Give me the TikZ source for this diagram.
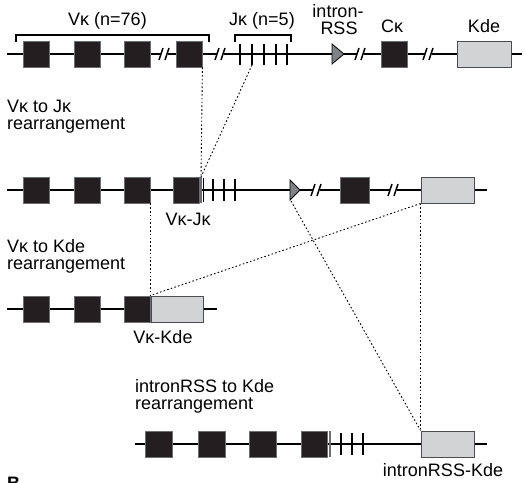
\documentclass[tikz,border=0pt]{standalone}
\usepackage{fontspec}
\setmainfont{Liberation Sans}
\definecolor{boxblk}{HTML}{231F20}
\definecolor{boxedge}{HTML}{6D6E71}
\definecolor{kdefill}{HTML}{D1D3D4}
\definecolor{kdeedge}{HTML}{4D4D4F}
\definecolor{trifill}{HTML}{808285}
\tikzset{
 dna/.style={line width=2.2pt, black},
 vseg/.style={rectangle, inner sep=0pt, fill=boxblk, draw=boxedge, line width=0.8pt, minimum width=26pt, minimum height=26pt},
 kseg/.style={rectangle, inner sep=0pt, fill=kdefill, draw=kdeedge, line width=1pt, minimum width=54pt, minimum height=26pt},
 jseg/.style={line width=1.8pt, black},
 junc/.style={line width=1.6pt, boxedge},
 link/.style={line width=0.9pt, dash pattern=on 1.6pt off 2.2pt},
 brace/.style={line width=1.3pt},
 lbl/.style={font=\fontsize{18}{17}\selectfont, inner sep=0pt},
 rss/.style={fill=trifill, draw=black, line width=0.8pt, line join=miter},
 slash/.style={line width=1.5pt},
}
\newcommand\seqbreak[2]{%
 \fill[white] (#1-3.5,#2-1.6) rectangle (#1+3.5,#2+1.6);
 \draw[slash] (#1-5,#2+6) -- (#1-1,#2-6) (#1+1,#2+6) -- (#1+5,#2-6);
}
\begin{document}
\begin{tikzpicture}[x=1pt,y=-1pt]
\clip (0,0) rectangle (526,482);
% ---------- row 1: germline ----------
\draw[dna] (7,54) -- (522,54);
\node[vseg] (a1) at (36,54) {};
\node[vseg] (a2) at (87,54) {};
\node[vseg] (a3) at (137,54) {};
\node[vseg] (a4) at (189,54) {};
\seqbreak{164}{54}
\seqbreak{220}{54}
\foreach \x in {240,252,264,276,287} \draw[jseg] (\x,44) -- (\x,65);
\coordinate (aj2) at (252,65);
\draw[brace] (16,42) -- (16,35) -- (209,35) -- (209,42);
\draw[brace] (235,42) -- (235,35) -- (291,35) -- (291,42);
\filldraw[rss] (332,44) -- (344,54) -- (332,64) -- cycle;
\seqbreak{360}{54}
\node[vseg] (ac) at (394,54) {};
\seqbreak{428}{54}
\node[kseg] (ak) at (484,54) {};
\node[lbl, anchor=base] (lv) at (107.5,25) {Vκ (n=76)};
\node[lbl, anchor=base] (lj) at (262,25) {Jκ (n=5)};
\node[lbl, anchor=base] (lr1) at (338,17) {intron-};
\node[lbl, anchor=base] (lr2) at (339,34) {RSS};
\node[lbl, anchor=base] (lc) at (392,32) {Cκ};
\node[lbl, anchor=base] (lk) at (484,32) {Kde};
% ---------- row 2: V-J ----------
\draw[dna] (7,190) -- (487,190);
\node[vseg] (b1) at (36,190) {};
\node[vseg] (b2) at (87,190) {};
\node[vseg] (b3) at (137,190) {};
\node[vseg] (b4) at (186,190) {};
\draw[junc] (201,177) -- (201,203);
\coordinate (bj) at (201,177);
\draw[line width=1pt] (203,178) -- (203,202);
\foreach \x in {213,224,235} \draw[jseg] (\x,179) -- (\x,201);
\filldraw[rss] (290,180) -- (300,190) -- (290,200) -- cycle;
\coordinate (bt) at (291,201);
\seqbreak{316}{190}
\node[vseg, minimum width=29pt] (bc) at (355,190) {};
\seqbreak{393}{190}
\node[kseg, minimum width=53pt] (bk) at (447.5,190) {};
\node[lbl, anchor=base west, align=left] (l2) at (7,129) {Vκ to Jκ\\rearrangement};
\node[lbl, anchor=base] (l2j) at (188,225) {Vκ-Jκ};
% ---------- row 3: V-Kde ----------
\draw[dna] (7,309) -- (217,309);
\node[vseg] (c1) at (36,309) {};
\node[vseg] (c2) at (87,309) {};
\node[vseg] (c3) at (137,309) {};
\node[kseg, minimum width=52pt] (ck) at (177,309) {};
\node[lbl, anchor=base west, align=left] (l3) at (7,269) {Vκ to Kde\\rearrangement};
\node[lbl, anchor=base] (l3j) at (163,343) {Vκ-Kde};
% ---------- row 4: intronRSS-Kde ----------
\draw[dna] (135,444) -- (487,444);
\node[vseg, minimum width=27pt] (d1) at (158.5,444) {};
\node[vseg, minimum width=27pt] (d2) at (211.5,444) {};
\node[vseg, minimum width=27pt] (d3) at (262.5,444) {};
\node[vseg] (d4) at (314,444) {};
\draw[junc] (330,431) -- (330,457);
\foreach \x in {341,352,363} \draw[jseg] (\x,433) -- (\x,455);
\node[kseg, minimum width=53pt] (dk) at (447.5,444) {};
\node[lbl, anchor=base west, align=left] (l4) at (135,409) {intronRSS to Kde\\rearrangement};
\node[lbl, anchor=base] (l4j) at (443,476) {intronRSS-Kde};
\node[font=\bfseries\fontsize{18}{18}\selectfont, anchor=north west, inner sep=0pt] (B) at (7,477) {B};
% ---------- dotted connectors ----------
\draw[link] (a4.south east) -- (bj);
\draw[link] (aj2) -- (bj);
\draw[link] (b3.south east) -- (c3.north east);
\draw[link] (bk.south west) -- (ck.north west);
\draw[link] (bt) -- (dk.north west);
\draw[link] (bk.south west) -- (dk.north west);
\end{tikzpicture}
\end{document}
